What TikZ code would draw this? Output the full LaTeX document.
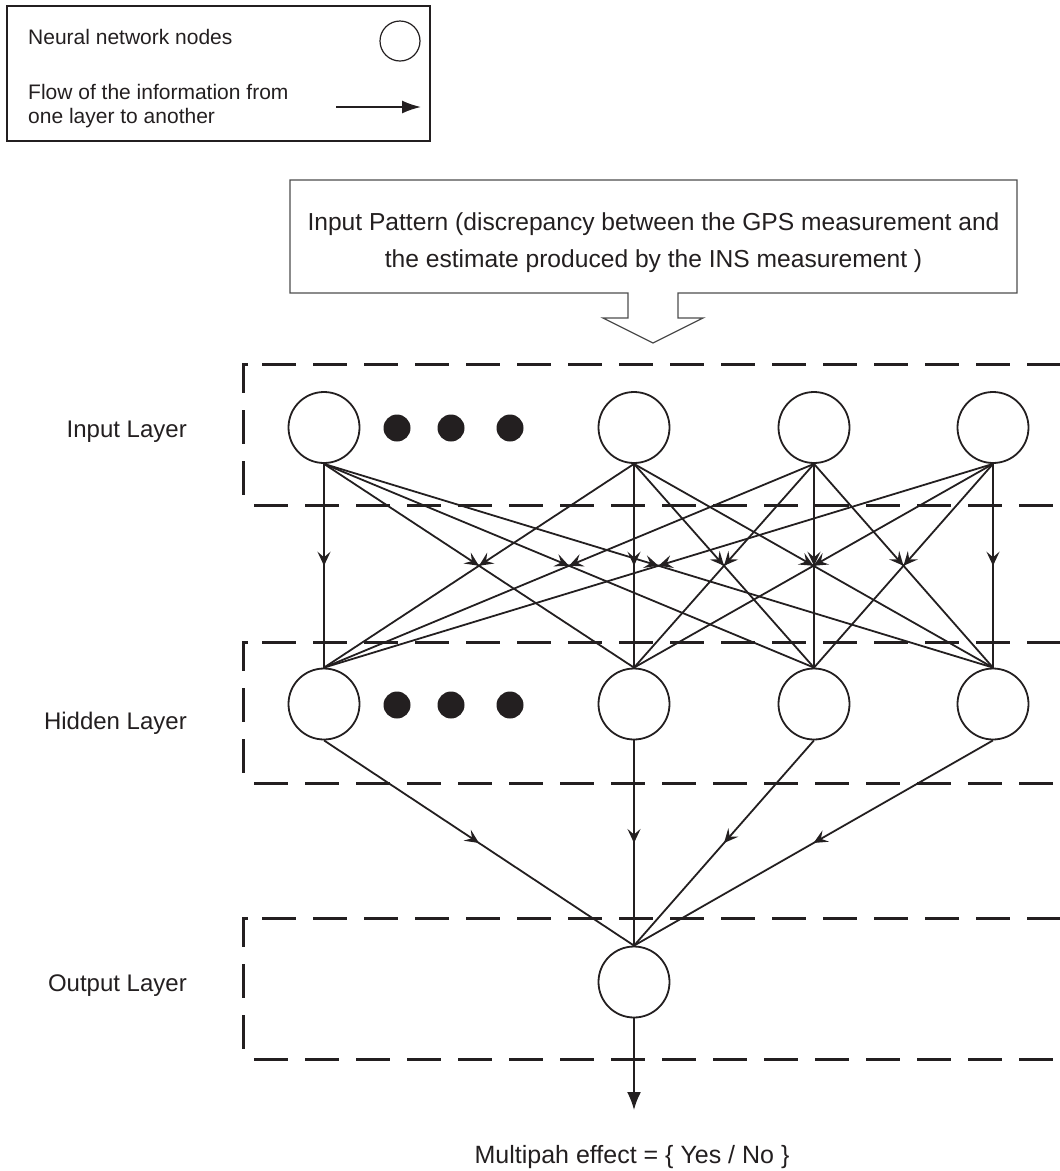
\documentclass[tikz,border=0pt]{standalone}
\usepackage{fontspec}
\setmainfont{Liberation Sans}
\usetikzlibrary{arrows.meta,decorations.markings}
\definecolor{ink}{HTML}{231F20}
\definecolor{boxgray}{HTML}{4D4D4D}
\begin{document}
\begin{tikzpicture}[x=1pt,y=-1pt,
  neuron/.style={circle,draw=ink,line width=1.8pt,minimum size=71pt,inner sep=0pt},
  dotnode/.style={circle,fill=ink,minimum size=27pt,inner sep=0pt},
  conn/.style={draw=ink,line width=1.8pt,
     decoration={markings,mark=at position 0.5 with {\arrow{Stealth[length=14pt,width=13pt,inset=5.5pt]}}},
     postaction={decorate}},
  layerline/.style={draw=ink,line width=3pt,dash pattern=on 34pt off 17pt},
  lbl/.style={font=\fontsize{24}{28}\selectfont,text=ink,inner sep=0pt},
  leg/.style={font=\fontsize{21}{24}\selectfont,text=ink,inner sep=0pt}
]
\useasboundingbox (0,0) rectangle (1060,1171);

% legend
\draw[ink,line width=2pt] (7,6) rectangle (430,141);
\node[leg,anchor=base west] (legt1) at (28,44) {Neural network nodes};
\node[leg,anchor=base west] (legt2) at (28,99) {Flow of the information from};
\node[leg,anchor=base west] (legt3) at (28,123) {one layer to another};
\node[circle,draw=ink,line width=1.2pt,minimum size=40pt,inner sep=0pt] (legc) at (400,41) {};
\coordinate (la) at (336,107);
\coordinate (lb) at (421,107);
\draw[ink,line width=1.8pt,-{Latex[length=19pt,width=13pt]}] (la) -- (lb);

% input pattern box with block arrow
\draw[boxgray,line width=1.3pt,line join=miter]
  (290,180) -- (1017,180) -- (1017,293) -- (678,293) -- (678,318) -- (703,318)
  -- (653,343) -- (603,318) -- (628,318) -- (628,293) -- (290,293) -- cycle;
\node[lbl,font=\fontsize{24.6}{28}\selectfont,anchor=base] (ip1) at (653.5,230) {Input Pattern (discrepancy between the GPS measurement and};
\node[lbl,font=\fontsize{24.6}{28}\selectfont,anchor=base] (ip2) at (653.5,267) {the estimate produced by the INS measurement )};

% layer frames
\foreach \t/\b in {364/505, 642/783, 918/1059} {
  \draw[layerline] (248,\t) -- (243,\t) -- (243,\b-5);
  \draw[layerline] (262,\t) -- (1060,\t);
  \draw[layerline] (254,\b) -- (1060,\b);
}

% layer labels
\node[lbl,anchor=base east] (lin) at (187,437) {Input Layer};
\node[lbl,anchor=base east] (lhid) at (187,729) {Hidden Layer};
\node[lbl,anchor=base east] (lout) at (187,991) {Output Layer};

% neurons
\node[neuron] (i1) at (324,427.5) {};
\node[neuron] (i2) at (634,427.5) {};
\node[neuron] (i3) at (814,427.5) {};
\node[neuron] (i4) at (993,427.5) {};
\node[dotnode] (id1) at (397,428) {};
\node[dotnode] (id2) at (451,428) {};
\node[dotnode] (id3) at (510,428) {};

\node[neuron] (h1) at (324,704) {};
\node[neuron] (h2) at (634,704) {};
\node[neuron] (h3) at (814,704) {};
\node[neuron] (h4) at (993,704) {};
\node[dotnode] (hd1) at (397,705) {};
\node[dotnode] (hd2) at (451,705) {};
\node[dotnode] (hd3) at (510,705) {};

\node[neuron] (o) at (634,982) {};

% connections
\foreach \i in {1,...,4} {
  \foreach \h in {1,...,4} {
    \draw[conn] (i\i.south) -- (h\h.north);
  }
}
\foreach \h in {1,...,4} {
  \draw[conn] (h\h.south) -- (o.north);
}

% output
\coordinate (outend) at (634,1110);
\draw[ink,line width=1.8pt,-{Latex[length=18pt,width=14pt]}] (o.south) -- (outend);
\node[lbl,font=\fontsize{25}{28}\selectfont,anchor=base] (res) at (632,1163) {Multipah effect = \{ Yes / No \}};
\end{tikzpicture}
\end{document}
